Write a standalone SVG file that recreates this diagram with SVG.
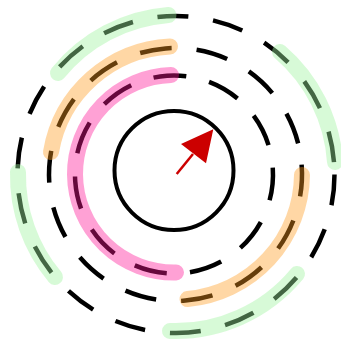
<svg xmlns="http://www.w3.org/2000/svg" width="341" height="344" viewBox="0 0 341 344">
  <style>
    .ring { fill: none; stroke: #000; stroke-width: 4; }
    .dash { stroke-width: 4.5; }
    .hl { fill: none; stroke-width: 16; stroke-linecap: round; stroke-linejoin: round; }
    .green { stroke: #a0f2a0; stroke-opacity: 0.42; }
    .orange { stroke: #ff9a1e; stroke-opacity: 0.4; }
    .pink { stroke: #ff1496; stroke-opacity: 0.4; }
  </style>
  <rect width="341" height="344" fill="#fff"/>
  <g id="rings">
    <circle id="inner" class="ring" cx="174" cy="170.5" r="59.5"/>
    <circle id="r1" class="ring dash" cx="174" cy="174.5" r="99" stroke-dasharray="33 23.5" transform="rotate(-4 174 174.5)"/>
    <circle id="r2" class="ring dash" cx="175.5" cy="174.5" r="126.5" stroke-dasharray="32 25" transform="rotate(-4.5 175.5 174.5)"/>
    <circle id="r3" class="ring dash" cx="176" cy="174.5" r="158.5" stroke-dasharray="31 25"/>
  </g>
  <g id="highlights">
    <path class="hl pink" d="M171,75 A99 99 0 0 0 75,174.5 A99 99 0 0 0 176,272.5"/>
    <path class="hl orange" d="M170,46.5 A127 127 0 0 0 51,152"/>
    <path class="hl orange" d="M302,175 A126 126 0 0 1 187.5,299"/>
    <path class="hl green" d="M168.5,15 A158 158 0 0 0 58,73"/>
    <path class="hl green" d="M280,52 A159 159 0 0 1 335,162"/>
    <path class="hl green" d="M18,172 A158 158 0 0 0 55,277"/>
    <path class="hl green" d="M297,274 A158 158 0 0 1 170,331"/>
  </g>
  <g id="arrow">
    <line x1="176.7" y1="174" x2="193" y2="154" stroke="#cc0000" stroke-width="2.5"/>
    <polygon points="213.3,129.3 181,144 206,163.3" fill="#cc0000"/>
  </g>
</svg>
